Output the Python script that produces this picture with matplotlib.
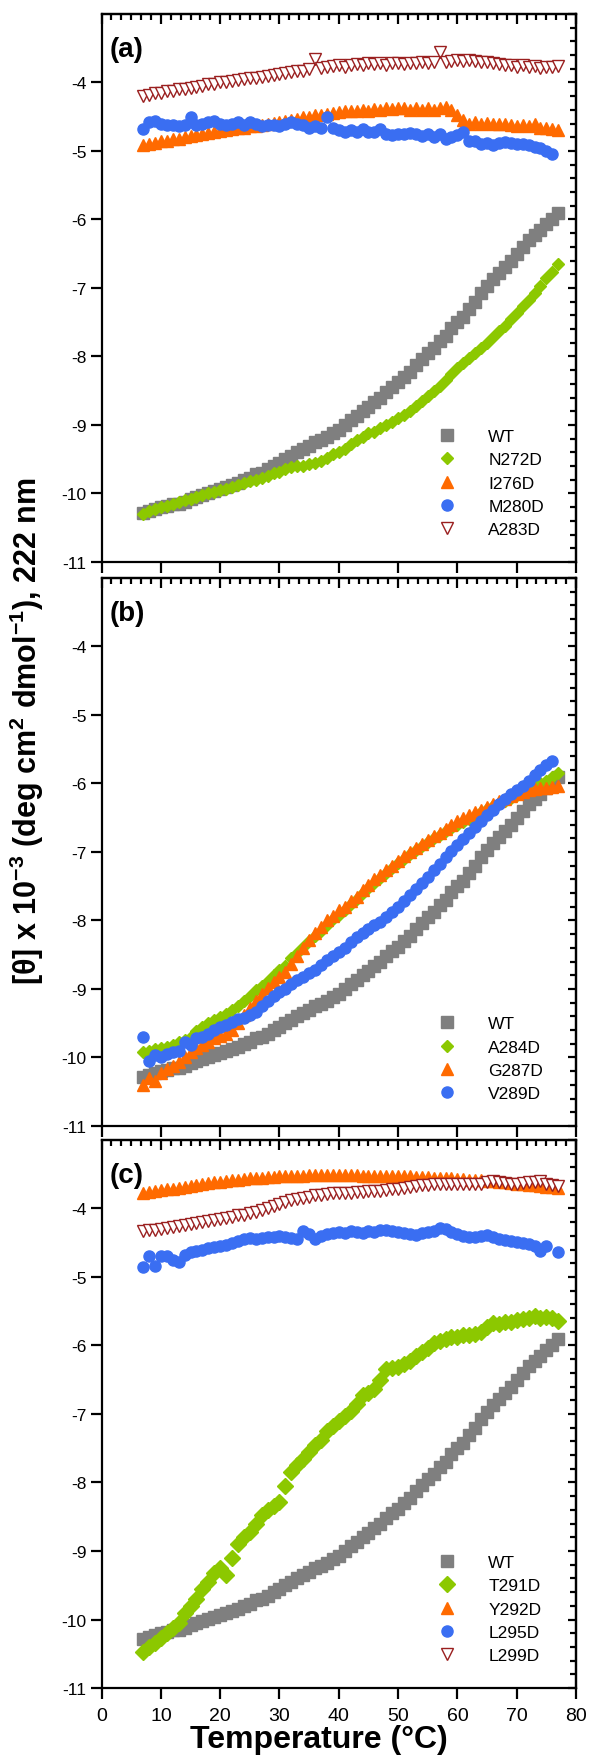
"""Three-panel CD thermal melt figure ([theta] at 222 nm vs temperature)."""

import matplotlib.pyplot as plt
import numpy as np
from matplotlib.ticker import MultipleLocator

plt.rcParams.update({
    'font.family': ['Liberation Sans', 'DejaVu Sans'],
    'mathtext.fontset': 'custom',
    'mathtext.rm': 'Liberation Sans',
    'mathtext.bf': 'Liberation Sans:bold',
    'axes.unicode_minus': False,
    'axes.linewidth': 1.6,
})

nan = np.nan

# measurement grid (1 degC steps)
temps = np.arange(7, 78)

wt = [-10.28, -10.25, -10.22, -10.20, -10.18, -10.15, -10.16, -10.12, -10.08, -10.05,
      -10.02, -9.99, -9.97, -9.93, -9.90, -9.87, -9.84, -9.80, -9.77, -9.72,
      -9.70, -9.65, -9.60, -9.56, -9.50, -9.45, -9.40, -9.35, -9.30, -9.25,
      -9.22, -9.18, -9.12, -9.07, -9.00, -8.93, -8.87, -8.80, -8.74, -8.67,
      -8.60, -8.52, -8.45, -8.38, -8.30, -8.22, -8.13, -8.03, -7.95, -7.87,
      -7.78, -7.70, -7.58, -7.50, -7.42, -7.30, -7.20, -7.07, -6.97, -6.87,
      -6.78, -6.70, -6.60, -6.50, -6.40, -6.30, -6.22, -6.15, -6.07, -6.00,
      -5.90]

n272d = [-10.30, -10.25, -10.22, -10.20, -10.18, -10.15, -10.13, -10.10, -10.08, -10.05,
         -10.02, -10.00, -9.98, -9.95, -9.93, -9.90, -9.88, -9.85, -9.82, -9.80,
         -9.77, -9.74, -9.70, -9.68, -9.65, -9.62, -9.60, -9.60, -9.57, -9.55,
         -9.52, -9.48, -9.43, -9.40, -9.35, -9.28, -9.22, -9.17, -9.12, -9.10,
         -9.05, -9.00, -8.95, -8.90, -8.85, -8.80, -8.73, -8.65, -8.58, -8.50,
         -8.43, -8.35, -8.25, -8.17, -8.10, -8.02, -7.95, -7.88, -7.80, -7.72,
         -7.63, -7.55, -7.45, -7.36, -7.27, -7.17, -7.07, -6.97, -6.86, -6.76,
         -6.65]

i276d = [-4.92, -4.90, -4.88, -4.86, -4.85, -4.83, -4.82, -4.80, -4.78, -4.77,
         -4.75, -4.74, -4.72, -4.71, -4.70, -4.68, -4.67, -4.66, -4.64, -4.63,
         -4.62, -4.60, -4.59, -4.58, -4.56, -4.55, -4.53, -4.51, -4.50, -4.48,
         -4.47, -4.46, -4.44, -4.43, -4.42, -4.41, -4.42, -4.40, -4.41, -4.39,
         -4.40, -4.38, -4.39, -4.37, -4.38, -4.40, -4.38, -4.40, -4.37, -4.40,
         -4.38, -4.36, -4.40, -4.47, -4.55, -4.60, -4.58, -4.60, -4.59, -4.60,
         -4.61, -4.60, -4.62, -4.63, -4.62, -4.64, -4.60, -4.66, -4.66, -4.68,
         -4.70]

m280d = [-4.68, -4.58, -4.56, -4.60, -4.62, -4.62, -4.63, -4.62, -4.50, -4.62,
         -4.60, -4.58, -4.57, -4.60, -4.62, -4.60, -4.58, -4.62, -4.58, -4.60,
         -4.63, -4.62, -4.62, -4.63, -4.60, -4.58, -4.60, -4.62, -4.66, -4.64,
         -4.66, -4.50, -4.66, -4.70, -4.72, -4.70, -4.72, -4.68, -4.72, -4.72,
         -4.68, -4.75, -4.77, -4.76, -4.75, -4.74, -4.76, -4.78, -4.76, -4.80,
         -4.76, -4.82, -4.80, -4.77, -4.72, -4.85, -4.86, -4.90, -4.88, -4.92,
         -4.88, -4.87, -4.88, -4.90, -4.90, -4.92, -4.94, -4.96, -5.00, -5.05,
         nan]

a283d = [-4.20, -4.18, -4.16, -4.15, -4.13, -4.12, -4.10, -4.09, -4.08, -4.06,
         -4.05, -4.03, -4.02, -4.00, -3.99, -3.98, -3.96, -3.95, -3.94, -3.93,
         -3.92, -3.90, -3.89, -3.87, -3.86, -3.85, -3.84, -3.83, -3.80, -3.66,
         -3.79, -3.77, -3.76, -3.75, -3.77, -3.74, -3.73, -3.75, -3.72, -3.73,
         -3.72, -3.74, -3.72, -3.72, -3.73, -3.71, -3.72, -3.70, -3.71, -3.70,
         -3.56, -3.70, -3.68, -3.67, -3.68, -3.67, -3.68, -3.70, -3.70, -3.72,
         -3.73, -3.74, -3.75, -3.77, -3.74, -3.78, -3.76, -3.79, -3.78, -3.78,
         -3.76]

a284d = [-9.92, -9.90, -9.88, -9.86, -9.84, -9.82, -9.78, -9.74, -9.70, -9.62,
         -9.56, -9.50, -9.45, -9.41, -9.36, -9.31, -9.25, -9.18, -9.10, -9.02,
         -8.95, -8.88, -8.80, -8.73, -8.66, -8.55, -8.47, -8.38, -8.30, -8.22,
         -8.15, -8.06, -7.98, -7.92, -7.84, -7.76, -7.68, -7.60, -7.52, -7.45,
         -7.38, -7.30, -7.23, -7.16, -7.10, -7.03, -6.97, -6.91, -6.86, -6.80,
         -6.75, -6.70, -6.65, -6.60, -6.56, -6.52, -6.47, -6.42, -6.37, -6.33,
         -6.29, -6.25, -6.21, -6.17, -6.13, -6.09, -6.05, -6.00, -5.96, -5.90,
         -5.85]

g287d = [-10.40, -10.30, -10.35, -10.22, -10.17, -10.12, -10.07, -10.00, -9.92, -9.86,
         -9.82, -9.77, -9.72, -9.68, -9.65, -9.60, -9.50, -9.38, -9.28, -9.18,
         -9.08, -8.98, -8.90, -8.82, -8.75, -8.63, -8.52, -8.40, -8.28, -8.18,
         -8.10, -8.00, -7.93, -7.85, -7.80, -7.72, -7.65, -7.55, -7.48, -7.40,
         -7.33, -7.26, -7.20, -7.13, -7.06, -7.00, -6.94, -6.88, -6.82, -6.77,
         -6.72, -6.66, -6.60, -6.55, -6.50, -6.46, -6.42, -6.38, -6.34, -6.30,
         -6.26, -6.22, -6.18, -6.15, -6.12, -6.10, -6.08, -6.07, -6.06, -6.05,
         -6.04]

v289d = [-9.70, -10.05, -9.97, -10.00, -9.95, -9.92, -9.90, -9.78, -9.82, -9.72,
         -9.70, -9.66, -9.60, -9.56, -9.52, -9.48, -9.44, -9.42, -9.38, -9.34,
         -9.25, -9.18, -9.10, -9.05, -9.00, -8.93, -8.87, -8.82, -8.77, -8.72,
         -8.65, -8.58, -8.52, -8.46, -8.40, -8.32, -8.24, -8.18, -8.12, -8.07,
         -8.02, -7.95, -7.87, -7.80, -7.72, -7.63, -7.54, -7.45, -7.36, -7.27,
         -7.18, -7.08, -6.99, -6.90, -6.81, -6.72, -6.63, -6.55, -6.46, -6.38,
         -6.30, -6.23, -6.16, -6.10, -6.03, -5.96, -5.88, -5.80, -5.73, -5.67,
         nan]

t291d = [-10.48, -10.40, -10.35, -10.27, -10.20, -10.12, -10.05, -9.90, -9.80, -9.70,
         -9.55, -9.45, -9.32, -9.25, -9.35, -9.10, -8.90, -8.80, -8.72, -8.60,
         -8.48, -8.40, -8.35, -8.28, -8.05, -7.85, -7.75, -7.65, -7.55, -7.45,
         -7.38, -7.25, -7.17, -7.10, -7.03, -6.95, -6.85, -6.73, -6.70, -6.63,
         -6.50, -6.35, -6.33, -6.32, -6.27, -6.22, -6.15, -6.09, -6.03, -5.97,
         -5.93, -5.90, -5.88, -5.87, -5.85, -5.84, -5.83, -5.80, -5.73, -5.67,
         -5.68, -5.66, -5.65, -5.63, -5.62, -5.60, -5.57, -5.60, -5.58, -5.60,
         -5.64]

y292d = [-3.77, -3.76, -3.74, -3.73, -3.72, -3.71, -3.70, -3.68, -3.67, -3.66,
         -3.64, -3.63, -3.62, -3.61, -3.60, -3.59, -3.58, -3.57, -3.56, -3.56,
         -3.55, -3.54, -3.54, -3.53, -3.53, -3.52, -3.52, -3.52, -3.51, -3.51,
         -3.51, -3.51, -3.51, -3.51, -3.51, -3.51, -3.51, -3.52, -3.52, -3.52,
         -3.52, -3.52, -3.53, -3.53, -3.53, -3.53, -3.54, -3.54, -3.54, -3.55,
         -3.55, -3.56, -3.56, -3.57, -3.57, -3.58, -3.58, -3.59, -3.60, -3.60,
         -3.61, -3.62, -3.63, -3.64, -3.65, -3.66, -3.66, -3.67, -3.68, -3.69,
         -3.70]

l295d = [-4.85, -4.70, -4.84, -4.70, -4.70, -4.75, -4.78, -4.68, -4.64, -4.62,
         -4.60, -4.58, -4.56, -4.55, -4.53, -4.50, -4.48, -4.44, -4.43, -4.44,
         -4.43, -4.42, -4.41, -4.40, -4.42, -4.43, -4.44, -4.33, -4.38, -4.44,
         -4.40, -4.38, -4.36, -4.35, -4.36, -4.33, -4.35, -4.36, -4.33, -4.34,
         -4.32, -4.31, -4.33, -4.34, -4.36, -4.38, -4.39, -4.36, -4.35, -4.33,
         -4.29, -4.30, -4.35, -4.38, -4.40, -4.42, -4.41, -4.40, -4.39, -4.41,
         -4.44, -4.46, -4.47, -4.49, -4.50, -4.52, -4.55, -4.62, -4.55, nan,
         -4.63]

l299d = [-4.33, -4.32, -4.31, -4.30, -4.29, -4.27, -4.26, -4.24, -4.22, -4.21,
         -4.20, -4.18, -4.17, -4.15, -4.14, -4.12, -4.10, -4.09, -4.07, -4.05,
         -4.02, -4.00, -3.96, -3.93, -3.90, -3.87, -3.86, -3.84, -3.83, -3.81,
         -3.80, -3.79, -3.78, -3.78, -3.77, -3.77, -3.76, -3.76, -3.75, -3.75,
         -3.74, -3.73, -3.72, -3.71, -3.70, -3.68, -3.67, -3.66, -3.66, -3.65,
         -3.65, -3.64, -3.64, -3.64, -3.64, -3.65, -3.64, -3.64, -3.62, -3.60,
         -3.61, -3.63, -3.64, -3.64, -3.63, -3.62, -3.61, -3.60, -3.64, -3.66,
         -3.67]

gray = '#7f7f7f'
green = '#8cc800'
orange = '#ff6a00'
blue = '#3a6ef2'
darkred = '#9a1f1f'

sq = dict(marker='s', ms=8, color=gray, mec=gray)
dia = dict(marker='D', ms=6, color=green, mec=green)
dia_big = dict(marker='D', ms=8.5, color=green, mec=green)
tri = dict(marker='^', ms=8, color=orange, mec=orange)
circ = dict(marker='o', ms=8, color=blue, mec=blue)
open_tri = dict(marker='v', ms=8, mfc='white', mec=darkred, mew=1.0)

panels = [
    ('(a)', [('WT', wt, sq), ('N272D', n272d, dia), ('I276D', i276d, tri),
             ('M280D', m280d, circ), ('A283D', a283d, open_tri)]),
    ('(b)', [('WT', wt, sq), ('A284D', a284d, dia), ('G287D', g287d, tri),
             ('V289D', v289d, circ)]),
    ('(c)', [('WT', wt, sq), ('T291D', t291d, dia_big), ('Y292D', y292d, tri),
             ('L295D', l295d, circ), ('L299D', l299d, open_tri)]),
]

fig = plt.figure(figsize=(5.92, 17.56), dpi=100)
left, width, height = 0.1716, 0.8014, 0.3121
bottoms = [0.6794, 0.3582, 0.03815]

for i, (tag, series) in enumerate(panels):
    ax = fig.add_axes([left, bottoms[i], width, height])
    for name, vals, style in series:
        ax.plot(temps, vals, ls='none', label=name, **style)

    ax.set_xlim(0, 80)
    ax.set_ylim(-11, -3)
    ax.set_xticks(np.arange(0, 81, 10))
    ax.set_yticks(np.arange(-11, -3))
    ax.tick_params(direction='out', length=8, width=1.6, top=False, right=False)
    ax.tick_params(axis='y', labelsize=12.5, pad=3)
    ax.tick_params(axis='x', labelsize=14, pad=6)
    if i < 2:
        ax.tick_params(labelbottom=False)

    # inward ticks on top and right
    top = ax.secondary_xaxis('top')
    top.set_xticks(np.arange(0, 81, 10))
    top.xaxis.set_minor_locator(MultipleLocator(10 / 6))
    top.tick_params(which='major', direction='in', length=7, width=1.6, labeltop=False)
    top.tick_params(which='minor', direction='in', length=4, width=1.6)
    top.spines['top'].set_linewidth(1.6)

    rgt = ax.secondary_yaxis('right')
    rgt.set_yticks(np.arange(-11, -2))
    rgt.yaxis.set_minor_locator(MultipleLocator(0.2))
    rgt.tick_params(which='major', direction='in', length=6, width=1.6, labelright=False)
    rgt.tick_params(which='minor', direction='in', length=4, width=1.6)
    rgt.spines['right'].set_linewidth(1.6)

    ax.text(0.017, 0.936, tag, transform=ax.transAxes, fontsize=20,
            fontweight='bold', va='center', ha='left')
    ax.legend(loc='lower left', bbox_to_anchor=(0.709, 0.045), frameon=False,
              fontsize=12.5, handlelength=1.0, handletextpad=1.9,
              labelspacing=0.47, borderpad=0, borderaxespad=0, numpoints=1)

fig.text(0.538, 0.009, 'Temperature (°C)', fontsize=23, fontweight='bold',
         ha='center', va='center')
fig.text(0.046, 0.439,
         r'[θ] x 10$^{\mathbf{-3}}$ (deg cm$^{\mathbf{2}}$ dmol$^{\mathbf{-1}}$), 222 nm',
         rotation=90, fontsize=22, fontweight='bold', ha='center', va='bottom')

fig.savefig('out.png', dpi=100)
